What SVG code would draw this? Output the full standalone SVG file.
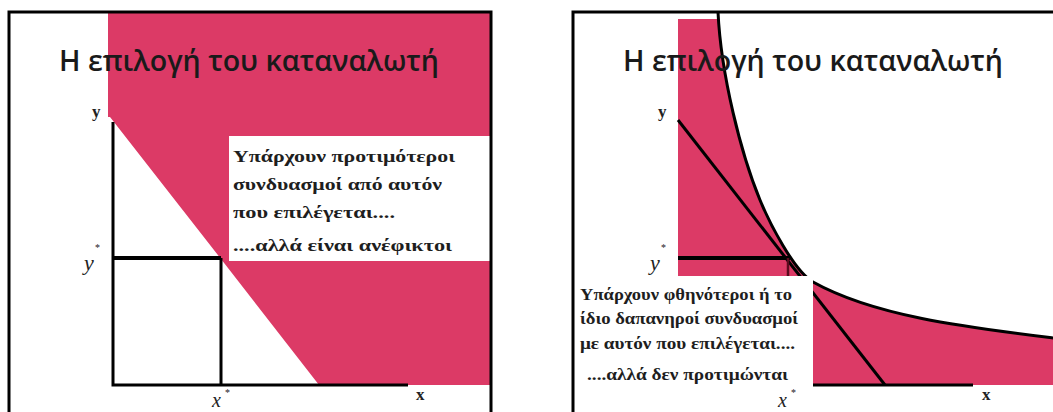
<svg xmlns="http://www.w3.org/2000/svg" width="1053" height="412" viewBox="0 0 1053 412">
<style>
.pink{fill:#DC3A66;stroke:none}
.box{fill:#ffffff;stroke:none}
.ln{stroke:#000;fill:none;stroke-linecap:butt}
.title{font-family:"Open Sans","DejaVu Sans",sans-serif;font-weight:600;font-size:28px;fill:#1a1a1a}
.note{font-family:"Liberation Serif",serif;font-weight:bold;fill:#1e1e1e}
.lbl{font-family:"Liberation Serif",serif;fill:#222}
</style>
<rect width="1053" height="412" fill="#ffffff"/>

<g id="left-panel">
  <polygon class="pink" points="108,12 491,12 491,385 319,385 221,259 110,117 108,117"/>
  <rect class="box" x="229" y="136" width="262" height="125"/>
  <g id="left-axes">
    <path class="ln" d="M113,122 V385 H408" stroke-width="3"/>
    <path class="ln" d="M113,258 H221" stroke-width="4"/>
    <path class="ln" d="M221,258 V385" stroke-width="3"/>
  </g>
  <path class="ln" d="M9,412 V12 H491 V412" stroke-width="3"/>
  <text class="title" x="59" y="71" textLength="380" lengthAdjust="spacingAndGlyphs">Η επιλογή του καταναλωτή</text>
  <text class="lbl" x="92" y="117" font-size="17" font-weight="bold">y</text>
  <text class="lbl" x="84" y="270" font-size="22" font-style="italic">y</text>
  <text class="lbl" x="95" y="251" font-size="10">*</text>
  <text class="lbl" x="212" y="407" font-size="20" font-style="italic">x</text>
  <text class="lbl" x="225" y="396" font-size="10">*</text>
  <text class="lbl" x="416" y="400" font-size="17" font-weight="bold">x</text>
  <g id="left-note" class="note" font-size="17">
    <text x="233" y="162" textLength="222" lengthAdjust="spacingAndGlyphs">Υπάρχουν προτιμότεροι</text>
    <text x="233" y="190" textLength="209" lengthAdjust="spacingAndGlyphs">συνδυασμοί από αυτόν</text>
    <text x="233" y="218" textLength="162" lengthAdjust="spacingAndGlyphs">που επιλέγεται....</text>
    <text x="233" y="251" textLength="219" lengthAdjust="spacingAndGlyphs">....αλλά είναι ανέφικτοι</text>
  </g>
</g>

<g id="right-panel">
  <path class="pink" d="M718,12 C721,75 741,154 760,200 C769.5,223 794,271 813,282 C874,316 964,327 1053,338 L1053,385 L678,385 L678,19 L718.5,19 Z"/>
  <g id="right-lines">
    <path class="ln" d="M678,120 L885,385" stroke-width="3"/>
    <path class="ln" d="M718,12 C721,75 741,154 760,200 C769.5,223 794,271 813,282 C874,316 964,327 1053,338" stroke-width="3"/>
    <path class="ln" d="M678,258 H790" stroke-width="4"/>
    <path d="M788,258 V276" stroke="#5a0a1e" stroke-width="2.5" fill="none"/>
  </g>
  <rect class="box" x="573" y="276" width="240" height="136"/>
  <path class="ln" d="M813,385 H973" stroke-width="3"/>
  <path class="ln" d="M573,412 V12 H1053" stroke-width="3"/>
  <text class="title" x="623" y="71" textLength="380" lengthAdjust="spacingAndGlyphs">Η επιλογή του καταναλωτή</text>
  <text class="lbl" x="658" y="117" font-size="17" font-weight="bold">y</text>
  <text class="lbl" x="650" y="270" font-size="22" font-style="italic">y</text>
  <text class="lbl" x="661" y="251" font-size="10">*</text>
  <text class="lbl" x="778" y="407" font-size="20" font-style="italic">x</text>
  <text class="lbl" x="791" y="396" font-size="10">*</text>
  <text class="lbl" x="982" y="400" font-size="17" font-weight="bold">x</text>
  <g id="right-note" class="note" font-size="16">
    <text x="580" y="300" textLength="212" lengthAdjust="spacingAndGlyphs">Υπάρχουν φθηνότεροι ή το</text>
    <text x="580" y="324" textLength="218" lengthAdjust="spacingAndGlyphs">ίδιο δαπανηροί συνδυασμοί</text>
    <text x="580" y="349" textLength="215" lengthAdjust="spacingAndGlyphs">με αυτόν που επιλέγεται....</text>
    <text x="587" y="380" textLength="201" lengthAdjust="spacingAndGlyphs">....αλλά δεν προτιμώνται</text>
  </g>
</g>
</svg>
